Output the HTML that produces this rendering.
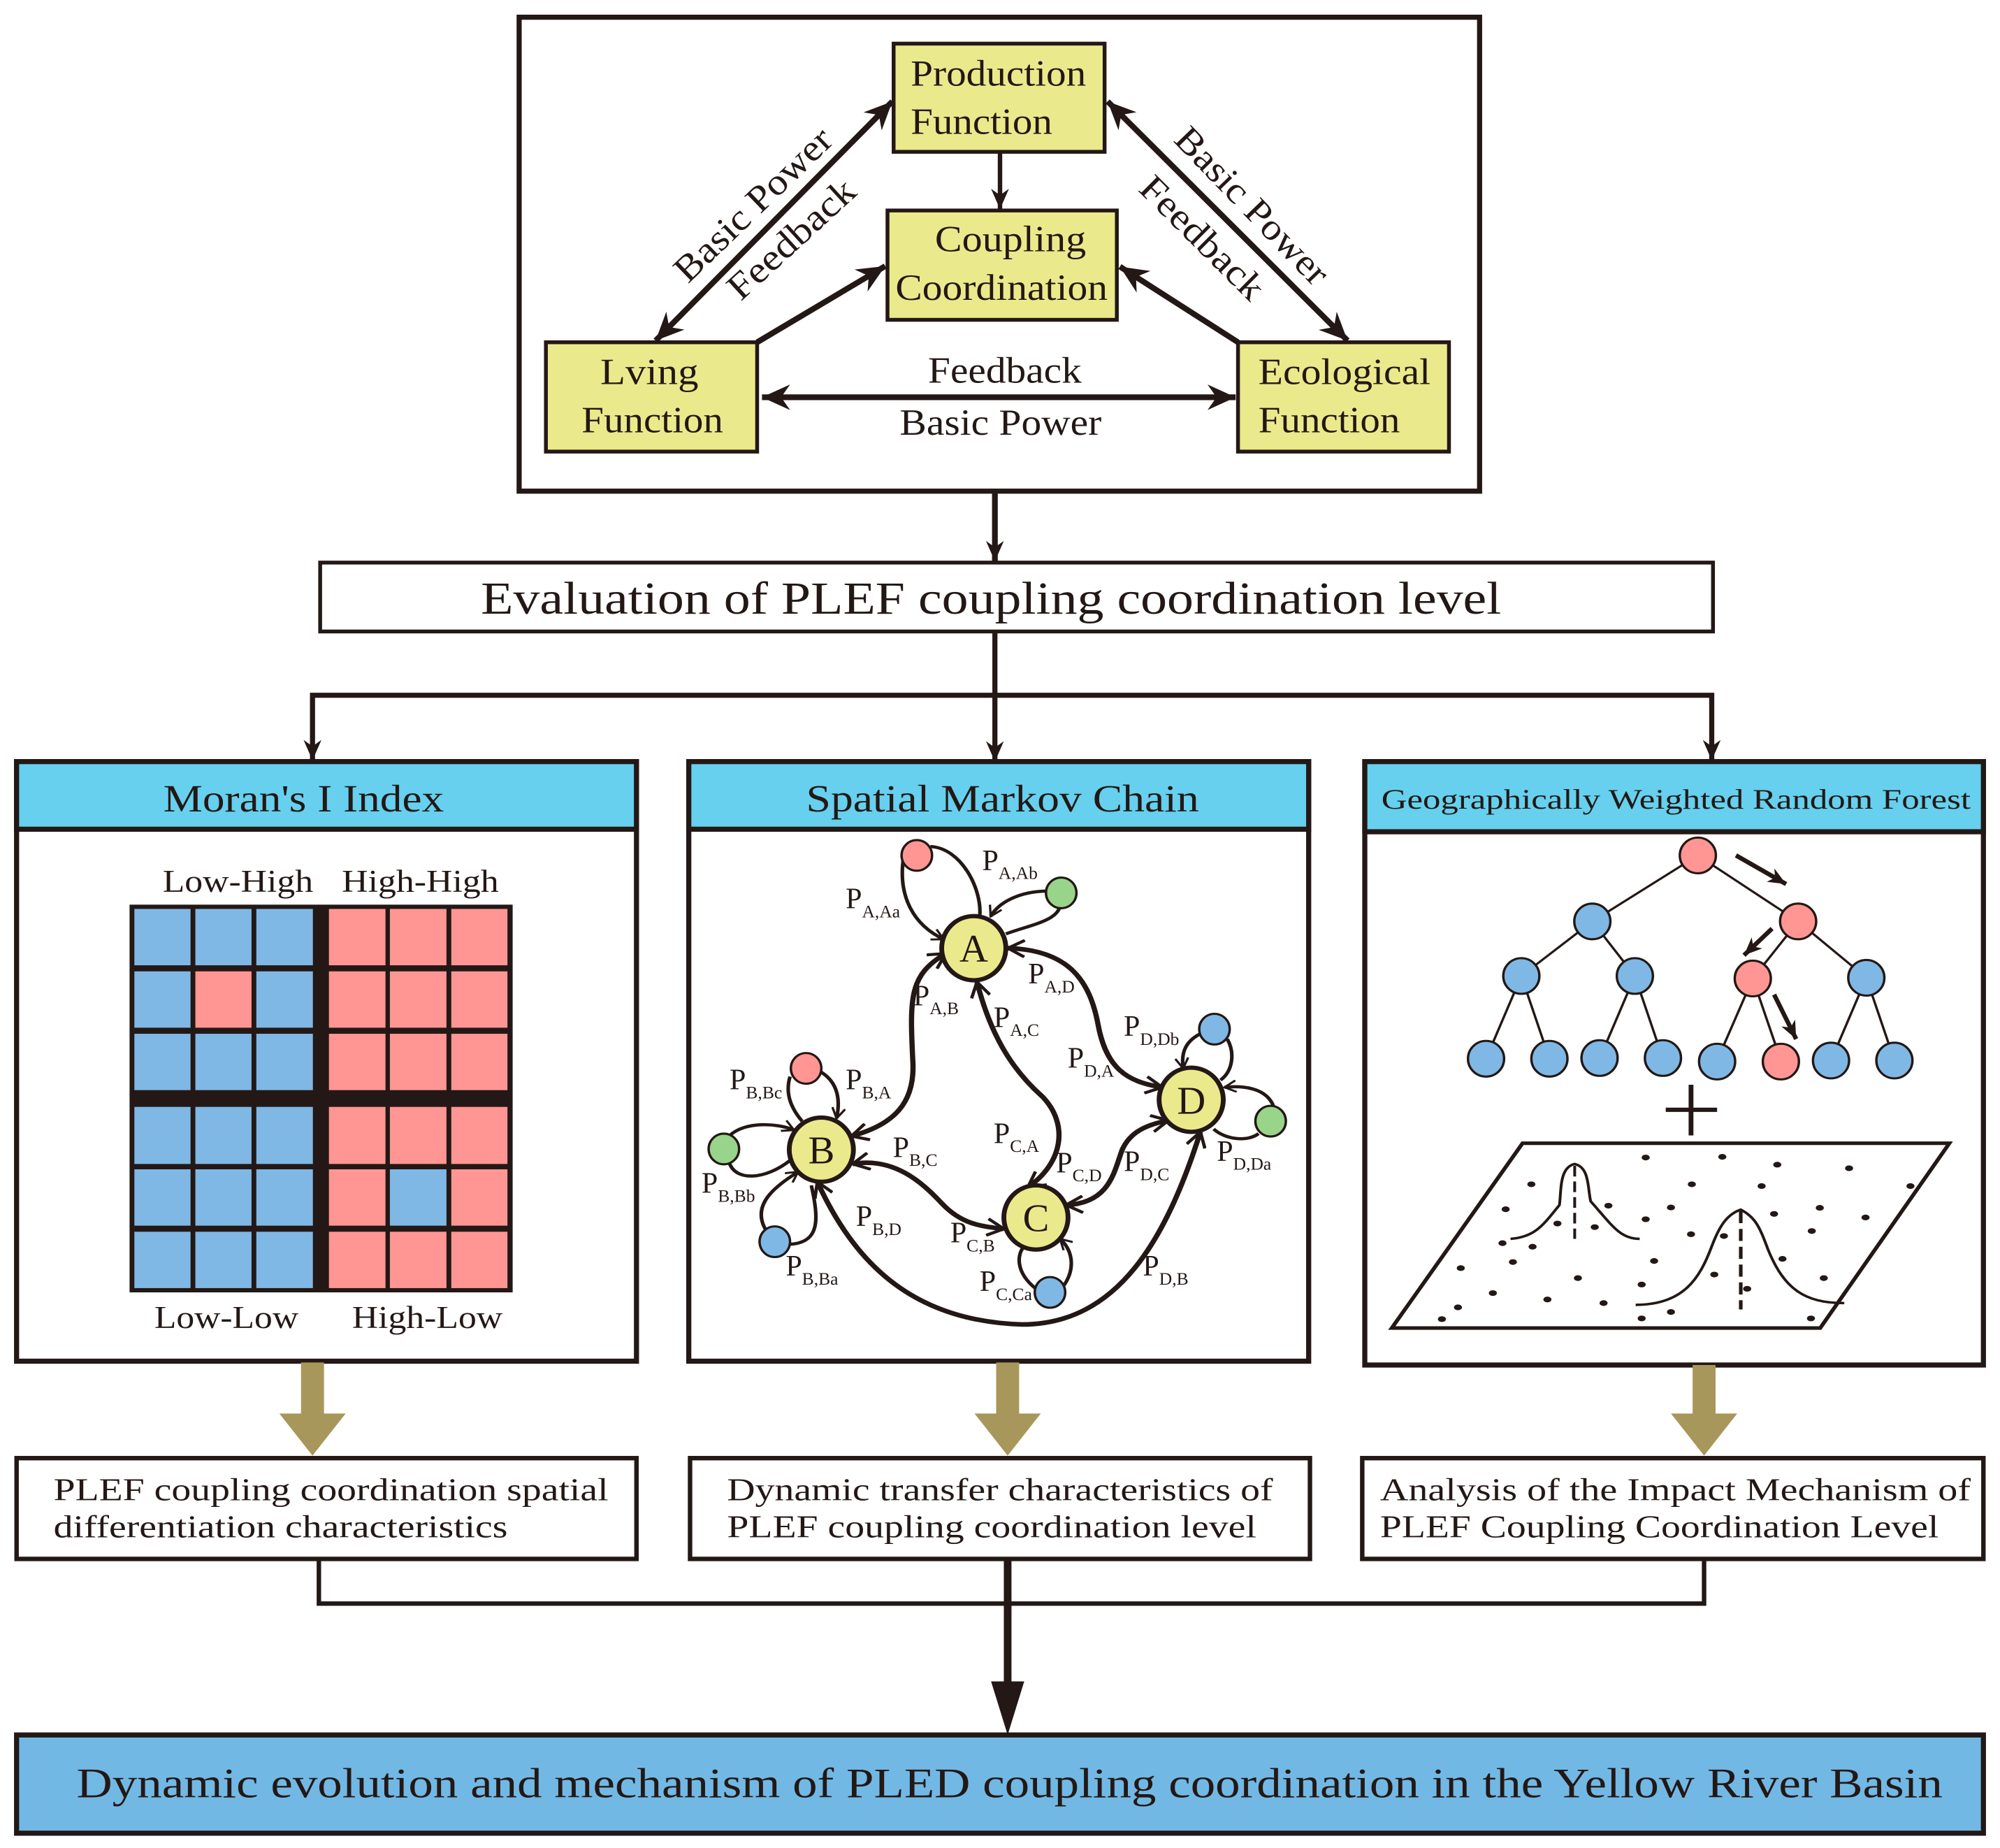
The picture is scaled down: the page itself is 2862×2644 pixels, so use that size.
<!DOCTYPE html>
<html><head><meta charset="utf-8"><style>html,body{margin:0;padding:0;background:#fff}svg{display:block}</style></head>
<body>
<svg xmlns="http://www.w3.org/2000/svg" width="2862" height="2644" viewBox="0 0 1568 1448.6" preserveAspectRatio="none" font-family="'Liberation Serif', serif" fill="#231815">
<defs>
<marker id="ah" markerUnits="userSpaceOnUse" viewBox="-22 -11 24 22" refX="0" refY="0" markerWidth="24" markerHeight="22" orient="auto-start-reverse"><path d="M0,0 L-22,-10 L-15,0 L-22,10 Z" fill="#231815"/></marker>
<marker id="ahs" markerUnits="userSpaceOnUse" viewBox="-16 -8 18 16" refX="0" refY="0" markerWidth="18" markerHeight="16" orient="auto-start-reverse"><path d="M0,0 L-16,-7 L-11,0 L-16,7 Z" fill="#231815"/></marker>
<marker id="ch" markerUnits="strokeWidth" viewBox="0 0 10 10" refX="9" refY="5" markerWidth="4" markerHeight="4" orient="auto-start-reverse"><path d="M1,0.5 L9,5 L1,9.5" fill="none" stroke="#231815" stroke-width="1.6"/></marker>
<marker id="ta" markerUnits="userSpaceOnUse" viewBox="-14 -7 15 14" refX="0" refY="0" markerWidth="15" markerHeight="14" orient="auto"><path d="M0,0 L-14,-6 L-10,0 L-14,6 Z" fill="#231815"/></marker>
</defs>
<rect width="1568" height="1448.6" fill="#fff"/>

<rect x="407" y="13.5" width="753" height="371.5" fill="#fff" stroke="#231815" stroke-width="4"/>
<g stroke="#231815" stroke-width="3" fill="#eaea8c">
<rect x="700.6" y="34.2" width="165.4" height="84.8"/>
<rect x="695.8" y="165" width="179.8" height="85.7"/>
<rect x="428" y="268.3" width="165.6" height="85.7"/>
<rect x="970.6" y="268.3" width="165.4" height="85.7"/>
</g>
<g font-size="29">
<text x="714" y="67" textLength="137.5" lengthAdjust="spacingAndGlyphs">Production</text>
<text x="714" y="105" textLength="111" lengthAdjust="spacingAndGlyphs">Function</text>
<text x="733" y="197" textLength="118.5" lengthAdjust="spacingAndGlyphs">Coupling</text>
<text x="702" y="235" textLength="166.4" lengthAdjust="spacingAndGlyphs">Coordination</text>
<text x="470.6" y="301" textLength="77" lengthAdjust="spacingAndGlyphs">Lving</text>
<text x="456" y="339" textLength="111" lengthAdjust="spacingAndGlyphs">Function</text>
<text x="986.6" y="301" textLength="135" lengthAdjust="spacingAndGlyphs">Ecological</text>
<text x="986.6" y="339" textLength="111" lengthAdjust="spacingAndGlyphs">Function</text>
<text x="727.6" y="300" textLength="120.4" lengthAdjust="spacingAndGlyphs">Feedback</text>
<text x="705.4" y="340.7" textLength="158.2" lengthAdjust="spacingAndGlyphs">Basic Power</text>
<text transform="translate(590,160) rotate(-44)" text-anchor="middle" y="10" textLength="160" lengthAdjust="spacingAndGlyphs">Basic Power</text>
<text transform="translate(620,187) rotate(-42.5)" text-anchor="middle" y="10" textLength="125" lengthAdjust="spacingAndGlyphs">Feedback</text>
<text transform="translate(982,161) rotate(46)" text-anchor="middle" y="10" textLength="160" lengthAdjust="spacingAndGlyphs">Basic Power</text>
<text transform="translate(943,186) rotate(44.8)" text-anchor="middle" y="10" textLength="125" lengthAdjust="spacingAndGlyphs">Feedback</text>
</g>
<g stroke="#231815" stroke-width="4.5" fill="none">
<line x1="514" y1="267" x2="699.6" y2="79.5" marker-start="url(#ah)" marker-end="url(#ah)"/>
<line x1="868.4" y1="79.5" x2="1056.5" y2="267" marker-start="url(#ah)" marker-end="url(#ah)"/>
<line x1="597.4" y1="311.4" x2="968.7" y2="311.4" marker-start="url(#ah)" marker-end="url(#ah)"/>
<line x1="593.6" y1="268.3" x2="694" y2="208.6" marker-end="url(#ah)"/>
<line x1="970.6" y1="268.3" x2="878" y2="209" marker-end="url(#ah)"/>
<line x1="784" y1="119.8" x2="784" y2="164" stroke-width="3.5" marker-end="url(#ahs)"/>
<line x1="780" y1="385" x2="780" y2="440" marker-end="url(#ahs)"/>
</g>

<rect x="251" y="441" width="1092" height="54" fill="#fff" stroke="#231815" stroke-width="3"/>
<text x="377" y="481" font-size="36" textLength="800" lengthAdjust="spacingAndGlyphs">Evaluation of PLEF coupling coordination level</text>
<g stroke="#231815" stroke-width="4" fill="none">
<line x1="780" y1="495" x2="780" y2="597" marker-end="url(#ahs)"/>
<polyline points="245,596 245,545 1342,545 1342,596" marker-start="url(#ahs)" marker-end="url(#ahs)"/>
</g>

<g stroke="#231815" stroke-width="4">
<rect x="13" y="597" width="486" height="470" fill="#fff"/>
<rect x="13" y="597" width="486" height="53" fill="#66d0ee"/>
<rect x="540" y="597" width="486" height="470" fill="#fff"/>
<rect x="540" y="597" width="486" height="53" fill="#66d0ee"/>
<rect x="1070" y="597" width="485" height="473" fill="#fff"/>
<rect x="1070" y="597" width="485" height="55" fill="#66d0ee"/>
</g>
<text x="128" y="636" font-size="30" textLength="220" lengthAdjust="spacingAndGlyphs">Moran's I Index</text>
<text x="632" y="636" font-size="30" textLength="308" lengthAdjust="spacingAndGlyphs">Spatial Markov Chain</text>
<text x="1083" y="634" font-size="22" textLength="462" lengthAdjust="spacingAndGlyphs">Geographically Weighted Random Forest</text>

<g transform="translate(11,635.6) scale(0.3145,0.2796)">
<rect x="288" y="263" width="955" height="1087" fill="#231815"/>
<g fill="#7fb8e4">
<rect x="300" y="275" width="140" height="158"/><rect x="452" y="275" width="140" height="158"/><rect x="604" y="275" width="141" height="158"/>
<rect x="300" y="450" width="140" height="158"/><rect x="604" y="450" width="141" height="158"/>
<rect x="300" y="625" width="140" height="158"/><rect x="452" y="625" width="140" height="158"/><rect x="604" y="625" width="141" height="158"/>
<rect x="300" y="830" width="140" height="160"/><rect x="452" y="830" width="140" height="160"/><rect x="604" y="830" width="141" height="160"/>
<rect x="300" y="1005" width="140" height="158"/><rect x="452" y="1005" width="140" height="158"/><rect x="604" y="1005" width="141" height="158"/>
<rect x="300" y="1180" width="140" height="158"/><rect x="452" y="1180" width="140" height="158"/><rect x="604" y="1180" width="141" height="158"/>
<rect x="937" y="1005" width="141" height="158"/>
</g>
<g fill="#ff9693">
<rect x="452" y="450" width="140" height="158"/>
<rect x="785" y="275" width="141" height="158"/><rect x="937" y="275" width="141" height="158"/><rect x="1090" y="275" width="140" height="158"/>
<rect x="785" y="450" width="141" height="158"/><rect x="937" y="450" width="141" height="158"/><rect x="1090" y="450" width="140" height="158"/>
<rect x="785" y="625" width="141" height="158"/><rect x="937" y="625" width="141" height="158"/><rect x="1090" y="625" width="140" height="158"/>
<rect x="785" y="830" width="141" height="160"/><rect x="937" y="830" width="141" height="160"/><rect x="1090" y="830" width="140" height="160"/>
<rect x="785" y="1005" width="141" height="158"/><rect x="1090" y="1005" width="140" height="158"/>
<rect x="785" y="1180" width="141" height="158"/><rect x="937" y="1180" width="141" height="158"/><rect x="1090" y="1180" width="140" height="158"/>
</g>
</g>
<g font-size="25">
<text x="127.5" y="699" textLength="118" lengthAdjust="spacingAndGlyphs">Low-High</text>
<text x="268" y="699" textLength="123" lengthAdjust="spacingAndGlyphs">High-High</text>
<text x="121" y="1041" textLength="113" lengthAdjust="spacingAndGlyphs">Low-Low</text>
<text x="276" y="1041" textLength="118" lengthAdjust="spacingAndGlyphs">High-Low</text>
</g>

<g transform="translate(537,635.6) scale(0.3145,0.2796)" fill="none" stroke="#231815">
<g stroke-width="13">
<path d="M650,400 C560,460 560,520 568,700 C575,820 520,880 415,912" marker-start="url(#ch)" marker-end="url(#ch)"/>
<path d="M728,480 C760,620 810,720 890,800 C960,880 940,990 855,1055" marker-start="url(#ch)" marker-end="url(#ch)"/>
<path d="M805,385 C960,390 1010,480 1030,600 C1050,720 1100,760 1190,775" marker-start="url(#ch)" marker-end="url(#ch)"/>
<path d="M418,990 C520,970 590,1040 640,1100 C690,1160 740,1165 795,1172" marker-start="url(#ch)" marker-end="url(#ch)"/>
<path d="M950,1105 C1060,1100 1070,1010 1090,950 C1110,900 1150,880 1205,868" marker-start="url(#ch)" marker-end="url(#ch)"/>
<path d="M330,1040 C420,1260 560,1430 840,1440 C1080,1440 1200,1200 1285,900" marker-start="url(#ch)" marker-end="url(#ch)"/>
</g>
<g stroke-width="9">
<path d="M545,130 C530,240 570,320 645,360" marker-end="url(#ch)"/>
<path d="M612,100 C690,105 740,220 735,292"/>
<path d="M935,268 C925,310 860,320 800,345"/>
<path d="M905,225 C830,225 780,260 762,296" marker-end="url(#ch)"/>
<path d="M262,745 C250,790 262,830 292,870"/>
<path d="M336,730 C382,760 388,810 378,862" marker-end="url(#ch)"/>
<path d="M112,910 C150,870 230,875 272,895" marker-end="url(#ch)"/>
<path d="M110,985 C125,1040 200,1035 262,980"/>
<path d="M200,1172 C165,1100 230,1050 282,1012" marker-end="url(#ch)"/>
<path d="M262,1215 C335,1210 335,1150 315,1050"/>
<path d="M875,1340 C820,1290 830,1240 845,1222"/>
<path d="M945,1330 C975,1280 965,1230 935,1200" marker-end="url(#ch)"/>
<path d="M1285,625 C1240,650 1238,690 1242,722" marker-end="url(#ch)"/>
<path d="M1352,640 C1372,680 1365,730 1335,755"/>
<path d="M1468,830 C1450,775 1390,770 1345,775" marker-end="url(#ch)"/>
<path d="M1430,905 C1400,930 1345,920 1318,892"/>
</g>
<g stroke-width="12" fill="#eaea8c">
<ellipse cx="720" cy="385" rx="80" ry="90"/>
<ellipse cx="340" cy="950" rx="80" ry="90"/>
<ellipse cx="875" cy="1140" rx="80" ry="90"/>
<ellipse cx="1262" cy="810" rx="80" ry="90"/>
</g>
<g stroke-width="6">
<ellipse cx="578" cy="125" rx="38" ry="43" fill="#ff9693"/>
<ellipse cx="938" cy="230" rx="38" ry="43" fill="#98d48a"/>
<ellipse cx="302" cy="722" rx="38" ry="43" fill="#ff9693"/>
<ellipse cx="97" cy="948" rx="38" ry="43" fill="#98d48a"/>
<ellipse cx="224" cy="1208" rx="38" ry="43" fill="#7fb8e4"/>
<ellipse cx="910" cy="1350" rx="38" ry="43" fill="#7fb8e4"/>
<ellipse cx="1320" cy="612" rx="38" ry="43" fill="#7fb8e4"/>
<ellipse cx="1460" cy="870" rx="38" ry="43" fill="#98d48a"/>
</g>
</g>
<g font-size="31" text-anchor="middle">
<text x="763.4" y="754">A</text><text x="644" y="912">B</text><text x="812.2" y="965">C</text><text x="934" y="873">D</text>
</g>
<g font-size="23">
<text x="663" y="712">P<tspan dy="7" font-size="14">A,Aa</tspan></text>
<text x="770" y="682">P<tspan dy="7" font-size="14">A,Ab</tspan></text>
<text x="716" y="788">P<tspan dy="7" font-size="14">A,B</tspan></text>
<text x="779" y="805">P<tspan dy="7" font-size="14">A,C</tspan></text>
<text x="806" y="771">P<tspan dy="7" font-size="14">A,D</tspan></text>
<text x="881" y="812">P<tspan dy="7" font-size="14">D,Db</tspan></text>
<text x="837" y="837">P<tspan dy="7" font-size="14">D,A</tspan></text>
<text x="572" y="854">P<tspan dy="7" font-size="14">B,Bc</tspan></text>
<text x="663" y="854">P<tspan dy="7" font-size="14">B,A</tspan></text>
<text x="700" y="907">P<tspan dy="7" font-size="14">B,C</tspan></text>
<text x="779" y="896">P<tspan dy="7" font-size="14">C,A</tspan></text>
<text x="828" y="919">P<tspan dy="7" font-size="14">C,D</tspan></text>
<text x="881" y="918">P<tspan dy="7" font-size="14">D,C</tspan></text>
<text x="954" y="910">P<tspan dy="7" font-size="14">D,Da</tspan></text>
<text x="550" y="935">P<tspan dy="7" font-size="14">B,Bb</tspan></text>
<text x="671" y="961">P<tspan dy="7" font-size="14">B,D</tspan></text>
<text x="745" y="974">P<tspan dy="7" font-size="14">C,B</tspan></text>
<text x="616" y="1000">P<tspan dy="7" font-size="14">B,Ba</tspan></text>
<text x="768" y="1012">P<tspan dy="7" font-size="14">C,Ca</tspan></text>
<text x="896" y="1000">P<tspan dy="7" font-size="14">D,B</tspan></text>
</g>

<g transform="translate(1068.5,635.6) scale(0.3145,0.2796)" stroke="#231815" fill="none">
<g stroke-width="6">
<line x1="835" y1="125" x2="572" y2="310"/><line x1="835" y1="125" x2="1085" y2="310"/>
<line x1="572" y1="310" x2="395" y2="463"/><line x1="572" y1="310" x2="678" y2="463"/>
<line x1="1085" y1="310" x2="972" y2="470"/><line x1="1085" y1="310" x2="1255" y2="468"/>
<line x1="395" y1="463" x2="307" y2="695"/><line x1="395" y1="463" x2="465" y2="695"/>
<line x1="678" y1="463" x2="590" y2="695"/><line x1="678" y1="463" x2="748" y2="695"/>
<line x1="972" y1="470" x2="883" y2="700"/><line x1="972" y1="470" x2="1042" y2="700"/>
<line x1="1255" y1="468" x2="1167" y2="700"/><line x1="1255" y1="468" x2="1325" y2="700"/>
</g>
<g stroke-width="6" fill="#7fb8e4">
<ellipse cx="835" cy="125" rx="45" ry="50" fill="#ff9693"/>
<ellipse cx="572" cy="310" rx="45" ry="50"/><ellipse cx="1085" cy="310" rx="45" ry="50" fill="#ff9693"/>
<ellipse cx="395" cy="463" rx="45" ry="50"/><ellipse cx="678" cy="463" rx="45" ry="50"/><ellipse cx="972" cy="470" rx="45" ry="50" fill="#ff9693"/><ellipse cx="1255" cy="468" rx="45" ry="50"/>
<ellipse cx="307" cy="695" rx="45" ry="50"/><ellipse cx="465" cy="695" rx="45" ry="50"/><ellipse cx="590" cy="693" rx="45" ry="50"/><ellipse cx="748" cy="693" rx="45" ry="50"/>
<ellipse cx="883" cy="703" rx="45" ry="50"/><ellipse cx="1042" cy="703" rx="45" ry="50" fill="#ff9693"/><ellipse cx="1167" cy="700" rx="45" ry="50"/><ellipse cx="1325" cy="700" rx="45" ry="50"/>
</g>
<g stroke-width="12">
<line x1="818" y1="768" x2="818" y2="910"/><line x1="755" y1="838" x2="883" y2="838"/>
<polygon points="398,932 1462,932 1140,1450 72,1450" stroke-width="10"/>
</g>
<g stroke-width="7">
<path d="M368,1200 C430,1195 450,1160 490,1105 C495,1060 490,1000 528,990 C566,1000 560,1060 568,1095 C620,1160 640,1200 690,1200"/>
<path d="M680,1385 C800,1385 840,1310 870,1220 C890,1160 910,1130 942,1118 C980,1140 990,1170 1010,1230 C1050,1340 1100,1380 1200,1380"/>
<line x1="528" y1="995" x2="528" y2="1200" stroke-dasharray="30,14"/>
<line x1="942" y1="1122" x2="942" y2="1398" stroke-width="9" stroke-dasharray="34,16"/>
</g>
<g fill="#231815" stroke="none">
<ellipse cx="705" cy="972" rx="10" ry="8"/><ellipse cx="896" cy="970" rx="10" ry="8"/><ellipse cx="1033" cy="992" rx="10" ry="8"/><ellipse cx="1212" cy="1002" rx="10" ry="8"/>
<ellipse cx="420" cy="1047" rx="10" ry="8"/><ellipse cx="820" cy="1047" rx="10" ry="8"/><ellipse cx="994" cy="1052" rx="10" ry="8"/><ellipse cx="1365" cy="1052" rx="10" ry="8"/>
<ellipse cx="356" cy="1117" rx="10" ry="8"/><ellipse cx="612" cy="1107" rx="10" ry="8"/><ellipse cx="768" cy="1112" rx="10" ry="8"/><ellipse cx="1139" cy="1113" rx="10" ry="8"/>
<ellipse cx="705" cy="1145" rx="10" ry="8"/><ellipse cx="1025" cy="1130" rx="10" ry="8"/><ellipse cx="1253" cy="1140" rx="10" ry="8"/><ellipse cx="485" cy="1157" rx="10" ry="8"/>
<ellipse cx="578" cy="1167" rx="10" ry="8"/><ellipse cx="818" cy="1187" rx="10" ry="8"/><ellipse cx="900" cy="1192" rx="10" ry="8"/><ellipse cx="1119" cy="1178" rx="10" ry="8"/>
<ellipse cx="348" cy="1212" rx="10" ry="8"/><ellipse cx="423" cy="1222" rx="10" ry="8"/><ellipse cx="726" cy="1262" rx="10" ry="8"/><ellipse cx="1046" cy="1256" rx="10" ry="8"/>
<ellipse cx="374" cy="1265" rx="10" ry="8"/><ellipse cx="244" cy="1282" rx="10" ry="8"/><ellipse cx="536" cy="1310" rx="10" ry="8"/><ellipse cx="876" cy="1300" rx="10" ry="8"/>
<ellipse cx="1149" cy="1310" rx="10" ry="8"/><ellipse cx="695" cy="1328" rx="10" ry="8"/><ellipse cx="958" cy="1340" rx="10" ry="8"/><ellipse cx="324" cy="1352" rx="10" ry="8"/>
<ellipse cx="460" cy="1370" rx="10" ry="8"/><ellipse cx="600" cy="1380" rx="10" ry="8"/><ellipse cx="237" cy="1392" rx="10" ry="8"/><ellipse cx="768" cy="1405" rx="10" ry="8"/>
<ellipse cx="197" cy="1425" rx="10" ry="8"/><ellipse cx="695" cy="1423" rx="10" ry="8"/><ellipse cx="1117" cy="1423" rx="10" ry="8"/>
</g>
</g>
<g stroke="#231815" stroke-width="3.5">
<line x1="1361" y1="670.5" x2="1400.3" y2="693" marker-end="url(#ta)"/>
<line x1="1389.3" y1="727.9" x2="1367.3" y2="748.8" marker-end="url(#ta)"/>
<line x1="1390.9" y1="779.6" x2="1408.2" y2="814.5" marker-end="url(#ta)"/>
</g>

<g fill="#a8975a">
<rect x="236" y="1068" width="18" height="42"/><polygon points="219,1108 271,1108 245,1141"/>
<rect x="781" y="1068" width="18" height="42"/><polygon points="764,1108 816,1108 790,1141"/>
<rect x="1327" y="1070" width="18" height="40"/><polygon points="1310,1108 1362,1108 1336,1141"/>
</g>

<g stroke="#231815" stroke-width="3.5" fill="#fff">
<rect x="13" y="1143" width="486" height="79"/>
<rect x="541" y="1143" width="486" height="79"/>
<rect x="1068" y="1143" width="487" height="79"/>
</g>
<g font-size="25">
<text x="42" y="1176" textLength="435" lengthAdjust="spacingAndGlyphs">PLEF coupling coordination spatial</text>
<text x="42" y="1205" textLength="356" lengthAdjust="spacingAndGlyphs">differentiation characteristics</text>
<text x="570" y="1176" textLength="428" lengthAdjust="spacingAndGlyphs">Dynamic transfer characteristics of</text>
<text x="570" y="1205" textLength="415" lengthAdjust="spacingAndGlyphs">PLEF coupling coordination level</text>
<text x="1082" y="1176" textLength="463" lengthAdjust="spacingAndGlyphs">Analysis of the Impact Mechanism of</text>
<text x="1082" y="1205" textLength="438" lengthAdjust="spacingAndGlyphs">PLEF Coupling Coordination Level</text>
</g>
<g stroke="#231815" fill="none">
<polyline points="250,1222 250,1257 1336,1257 1336,1222" stroke-width="3.5"/>
<line x1="790" y1="1222" x2="790" y2="1330" stroke-width="6"/>
</g>
<polygon points="777,1318 803,1318 790,1360" fill="#231815"/>

<rect x="13" y="1360" width="1542" height="77" fill="#72b8e4" stroke="#231815" stroke-width="4"/>
<text x="60" y="1409" font-size="33" textLength="1463" lengthAdjust="spacingAndGlyphs">Dynamic evolution and mechanism of PLED coupling coordination in the Yellow River Basin</text>
</svg>
</body></html>
